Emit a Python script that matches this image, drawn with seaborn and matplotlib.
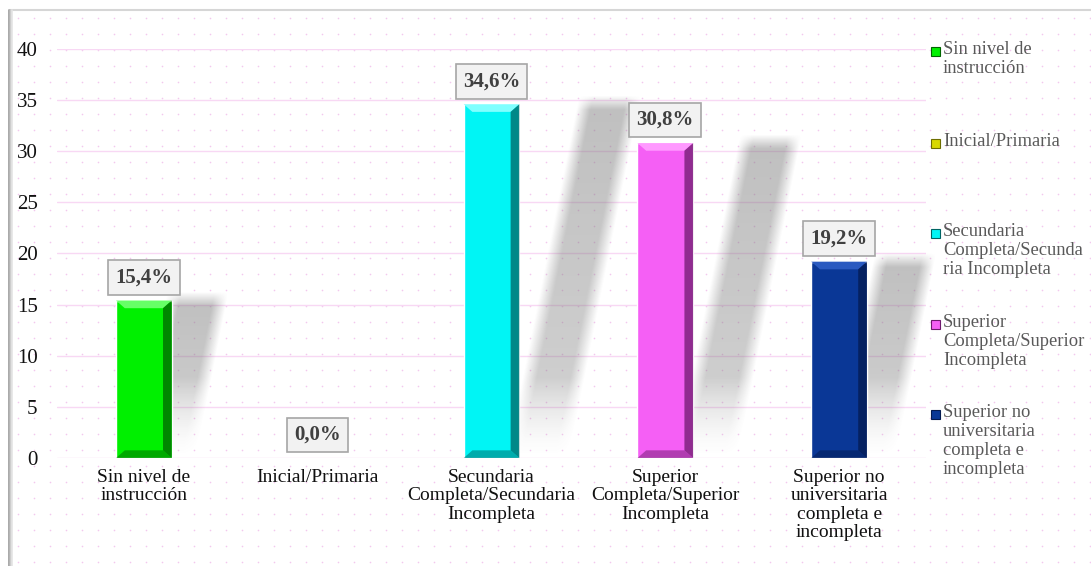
import numpy as np
import pandas as pd
import matplotlib
matplotlib.use("Agg")
import matplotlib.pyplot as plt
from matplotlib.patches import Polygon, Rectangle
import seaborn as sns

# data
categories = ["Sin nivel de instrucción", "Inicial/Primaria",
              "Secundaria Completa/Secundaria Incompleta",
              "Superior Completa/Superior Incompleta",
              "Superior no universitaria completa e incompleta"]
values = [15.4, 0.0, 34.6, 30.8, 19.2]
tick_labels = ["Sin nivel de\ninstrucción", "Inicial/Primaria",
               "Secundaria\nCompleta/Secundaria\nIncompleta",
               "Superior\nCompleta/Superior\nIncompleta",
               "Superior no\nuniversitaria\ncompleta e\nincompleta"]
legend_labels = ["Sin nivel de\ninstrucción", "Inicial/Primaria",
                 "Secundaria\nCompleta/Secunda\nria Incompleta",
                 "Superior\nCompleta/Superior\nIncompleta",
                 "Superior no\nuniversitaria\ncompleta e\nincompleta"]
colors = ["#00f000", "#d8d800", "#00f5f5", "#f55ff5", "#0a3796"]
dark = ["#006400", "#6e6e00", "#006464", "#6e1a6e", "#041a50"]
light = ["#66ff66", "#ffff66", "#80ffff", "#ff99ff", "#2a5ac0"]

sns.set_theme(style="white")
plt.rcParams["font.family"] = ["Liberation Serif", "DejaVu Serif"]

W, H = 1091, 566
fig = plt.figure(figsize=(W / 100, H / 100), dpi=100)

# background: dotted pattern + frame
bg = fig.add_axes([0, 0, 1, 1], zorder=-5)
bg.set_xlim(0, W)
bg.set_ylim(H, 0)
bg.axis("off")
gx, gy = np.meshgrid(np.arange(18, W, 16), np.arange(18, H, 16))
bg.scatter(gx.ravel(), gy.ravel(), s=1.4, color="#f3c8ee", linewidths=0)
bg.plot([10, W], [10, 10], color="#d6d6d6", lw=1.5)
for i, c in enumerate(["#9a9a9a", "#b8b8b8", "#d0d0d0", "#e4e4e4"]):
    bg.plot([9 + i, 9 + i], [10, H], color=c, lw=1.2)

df = pd.DataFrame({"cat": categories, "val": values})

L, R, T, B = 57, 926, 49, 458
ax = fig.add_axes([L / W, 1 - B / H, (R - L) / W, (B - T) / H])
ax.set_facecolor("none")
sns.barplot(data=df, x="cat", y="val", hue="cat", palette=colors,
            width=0.32, legend=False, ax=ax, zorder=3, saturation=1)

YMAX = 40
px_cat = (R - L) / 5.0      # pixels per category
px_val = (B - T) / YMAX     # pixels per value unit

# soft perspective shadows, built from the bar geometry
xs = np.linspace(-0.5, 4.75, int(5.25 * px_cat))
ys = np.linspace(0, YMAX, int(YMAX * px_val))
XX, YY = np.meshgrid(xs, ys)
alpha = np.zeros_like(XX)
blur = 14.0
for p in ax.patches:
    x0, w, h = p.get_x(), p.get_width(), p.get_height()
    if h <= 0:
        continue
    hp = h * px_val
    yp = YY * px_val
    cx = (x0 + w / 2) * px_cat + 0.13 * hp + 0.20 * yp
    d = np.abs(XX * px_cat - cx) - w * px_cat / 2 + 4
    a = np.clip(0.5 - d / blur, 0, 1)
    a *= np.clip(0.5 - (yp - hp - 1) / blur, 0, 1)
    a *= np.clip(yp / 80.0, 0, 1) ** 1.5
    a *= 0.7 + 0.3 * np.clip(yp / hp, 0, 1)
    alpha = np.maximum(alpha, a)
img = np.zeros(XX.shape + (4,))
img[..., :3] = 0.45
img[..., 3] = alpha * 0.45
ax.imshow(img, extent=(xs[0], xs[-1], 0, YMAX), origin="lower",
          aspect="auto", zorder=1, clip_on=False, interpolation="bilinear")

ax.set_ylim(0, YMAX)
ax.set_xlim(-0.5, 4.5)
ax.set_yticks(range(0, 41, 5))
ax.yaxis.grid(True, color="#f8d8f4", lw=1.0)
ax.set_axisbelow(True)
for s in ax.spines.values():
    s.set_visible(False)
ax.set_xlabel("")
ax.set_ylabel("")
ax.set_xticks(range(len(categories)))
ax.set_xticklabels(tick_labels, fontsize=14, color="#111111", va="top",
                   linespacing=1.1)
ax.tick_params(axis="x", length=0, pad=8)
ax.tick_params(axis="y", length=0, pad=14, labelsize=15, labelcolor="#111111")

# bevels
bx = 0.05   # bevel in category units
by = 0.75   # bevel in value units
for i, p in enumerate(ax.patches):
    x0, w, h = p.get_x(), p.get_width(), p.get_height()
    if h <= 0:
        continue
    ax.add_patch(Polygon([(x0, h), (x0 + w, h), (x0 + w - bx, h - by),
                          (x0 + bx, h - by)], facecolor=light[i], lw=0, zorder=4))
    ax.add_patch(Polygon([(x0 + w, h), (x0 + w, 0), (x0 + w - bx, by),
                          (x0 + w - bx, h - by)], facecolor=dark[i], alpha=0.75,
                         lw=0, zorder=4))
    ax.add_patch(Polygon([(x0, 0), (x0 + w, 0), (x0 + w - bx, by),
                          (x0 + bx, by)], facecolor=dark[i], alpha=0.5,
                         lw=0, zorder=4))

# data labels
for i, v in enumerate(values):
    ax.annotate(f"{v:.1f}%".replace(".", ","), xy=(i, v), xytext=(0, 13),
                textcoords="offset pixels", ha="center", va="bottom",
                fontsize=15, fontweight="bold", color="#404040", zorder=6,
                bbox=dict(boxstyle="square,pad=0.35", fc="#f2f2f2",
                          ec="#a6a6a6", lw=1.2))

# legend
leg_tops = [45, 137, 227, 318, 408]
for lab, col, dk, yt in zip(legend_labels, colors, dark, leg_tops):
    bg.add_patch(Rectangle((931, yt + 2), 9, 9, facecolor=col,
                           edgecolor=dk, lw=0.8))
    bg.text(943, yt - 4, lab, fontsize=13.3, color="#595959", va="top",
            ha="left", linespacing=1.15)

fig.savefig("out.png", dpi=100)
